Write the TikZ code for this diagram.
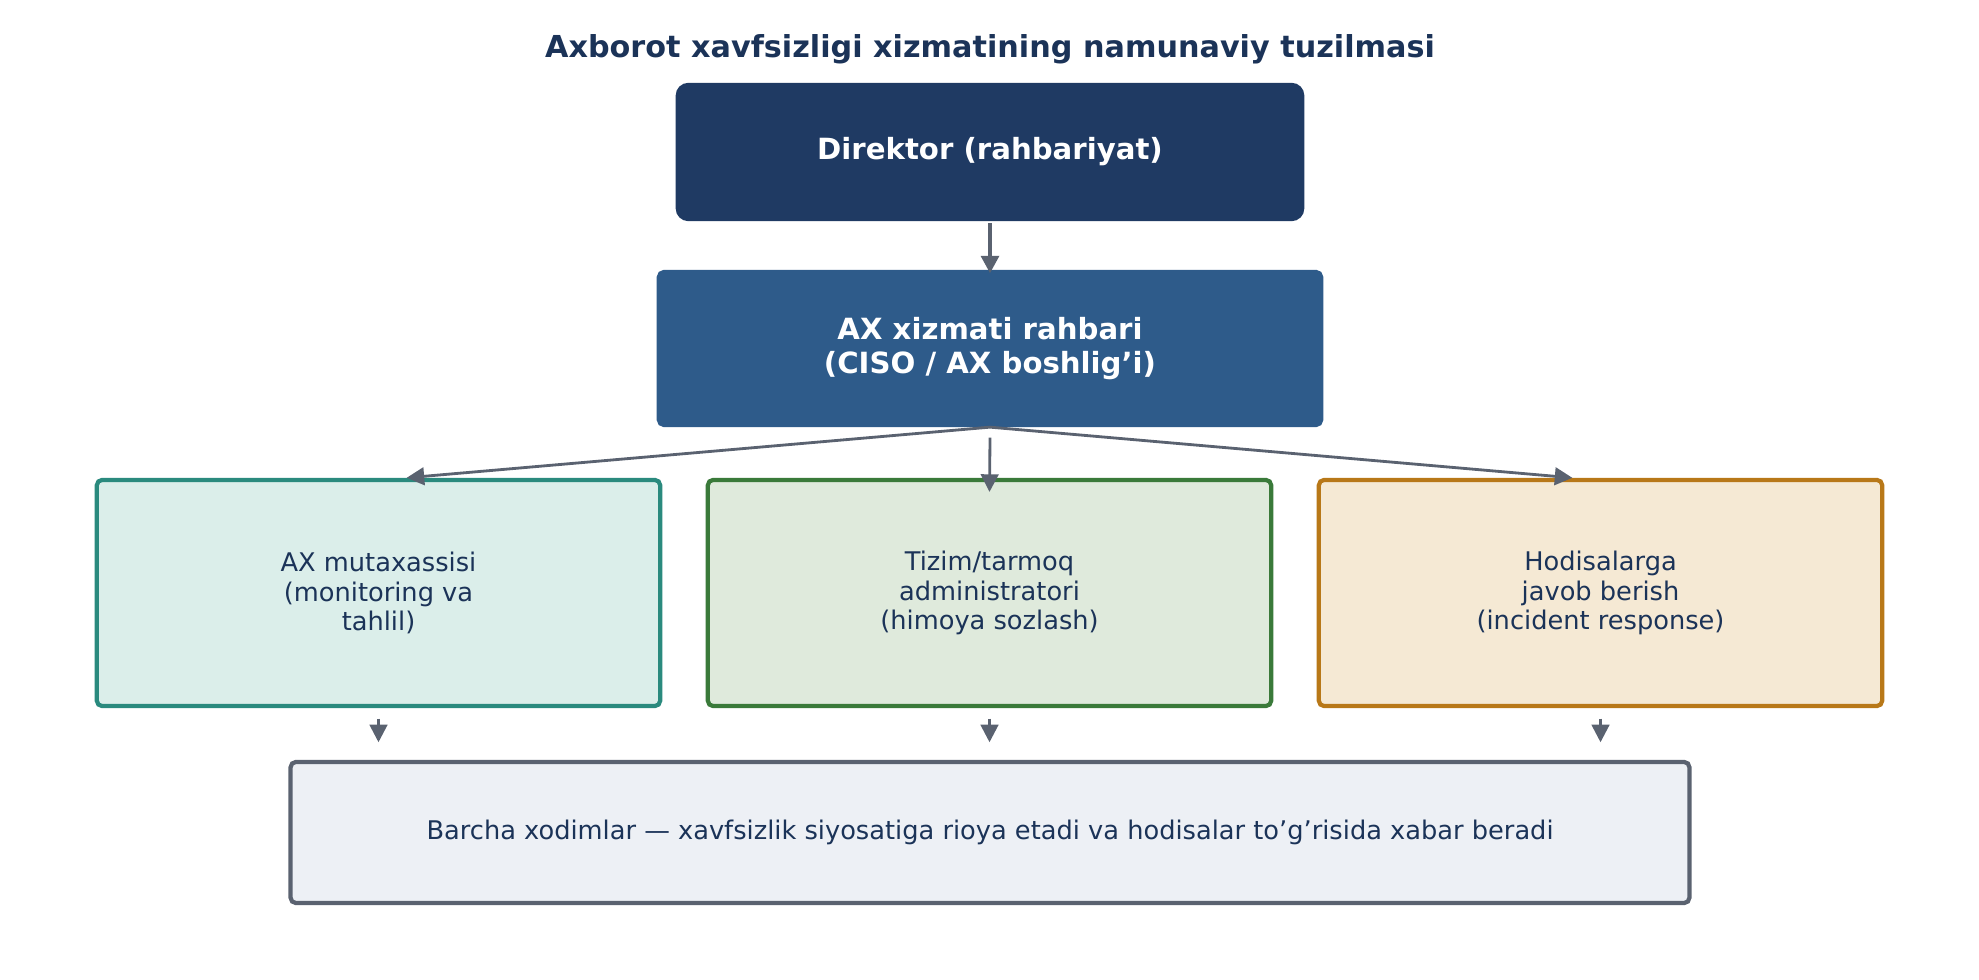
\documentclass[tikz,border=0pt]{standalone}
\usepackage{fontspec}
\setmainfont{DejaVu Sans}
\usetikzlibrary{arrows.meta}
\definecolor{navy}{HTML}{1F3A63}
\definecolor{steel}{HTML}{2E5B8A}
\definecolor{ink}{HTML}{1B3358}
\definecolor{edge}{HTML}{5A6270}
\definecolor{tealfill}{HTML}{DBEEEA}
\definecolor{tealline}{HTML}{2A8A7E}
\definecolor{greenfill}{HTML}{DFEADC}
\definecolor{greenline}{HTML}{3A7A3A}
\definecolor{orangefill}{HTML}{F5E9D4}
\definecolor{orangeline}{HTML}{B87818}
\definecolor{greyfill}{HTML}{EDF0F5}
\tikzset{
  box/.style={draw, line width=1.2pt, rounded corners=1.5pt, align=center, text=ink,
    font=\fontsize{7.3}{8.3}\selectfont, inner sep=0pt},
  unit/.style={box, minimum width=5.63cm, minimum height=2.26cm},
  arr/.style={-{Triangle[length=5pt,width=5pt]}, draw=edge, line width=0.8pt}
}
\begin{document}
\begin{tikzpicture}[x=0.01cm,y=-0.01cm]
\useasboundingbox (0,0) rectangle (1979,980);
\node[font=\bfseries\fontsize{8.6}{10}\selectfont, text=ink] (title) at (990,49) {Axborot xavfsizligi xizmatining namunaviy tuzilmasi};
\node[box, fill=navy, draw=navy, text=white, font=\bfseries\fontsize{8.3}{9.6}\selectfont,
  rounded corners=3pt, minimum width=6.24cm, minimum height=1.34cm] (dir) at (990,152) {Direktor (rahbariyat)};
\node[box, fill=steel, draw=steel, text=white, font=\bfseries\fontsize{8.3}{9.6}\selectfont,
  minimum width=6.62cm, minimum height=1.53cm] (head) at (990,348.5) {AX xizmati rahbari\\(CISO / AX boshlig'i)};
\node[unit, fill=tealfill, draw=tealline] (spec) at (378.5,593) {AX mutaxassisi\\(monitoring va\\tahlil)};
\node[unit, fill=greenfill, draw=greenline] (admin) at (989.5,593) {Tizim/tarmoq\\administratori\\(himoya sozlash)};
\node[unit, fill=orangefill, draw=orangeline] (resp) at (1600.5,593) {Hodisalarga\\javob berish\\(incident response)};
\node[box, fill=greyfill, draw=edge, minimum width=13.98cm, minimum height=1.41cm] (all) at (990,832.5)
  {Barcha xodimlar — xavfsizlik siyosatiga rioya etadi va hodisalar to'g'risida xabar beradi};
\draw[arr, line width=1.3pt] (dir.south) ++(0,2) -- ([yshift=-1pt]head.north);
\draw[arr] (head.south) -- ([xshift=8pt]spec.north);
\draw[arr] ([yshift=-3pt]head.south) -- ([yshift=-4pt]admin.north);
\draw[arr] (head.south) -- ([xshift=-8pt]resp.north);
\foreach \n in {spec,admin,resp}
  \draw[arr] ([yshift=-3pt]\n.south) -- ([yshift=5pt]\n.south |- all.north);
\end{tikzpicture}
\end{document}
